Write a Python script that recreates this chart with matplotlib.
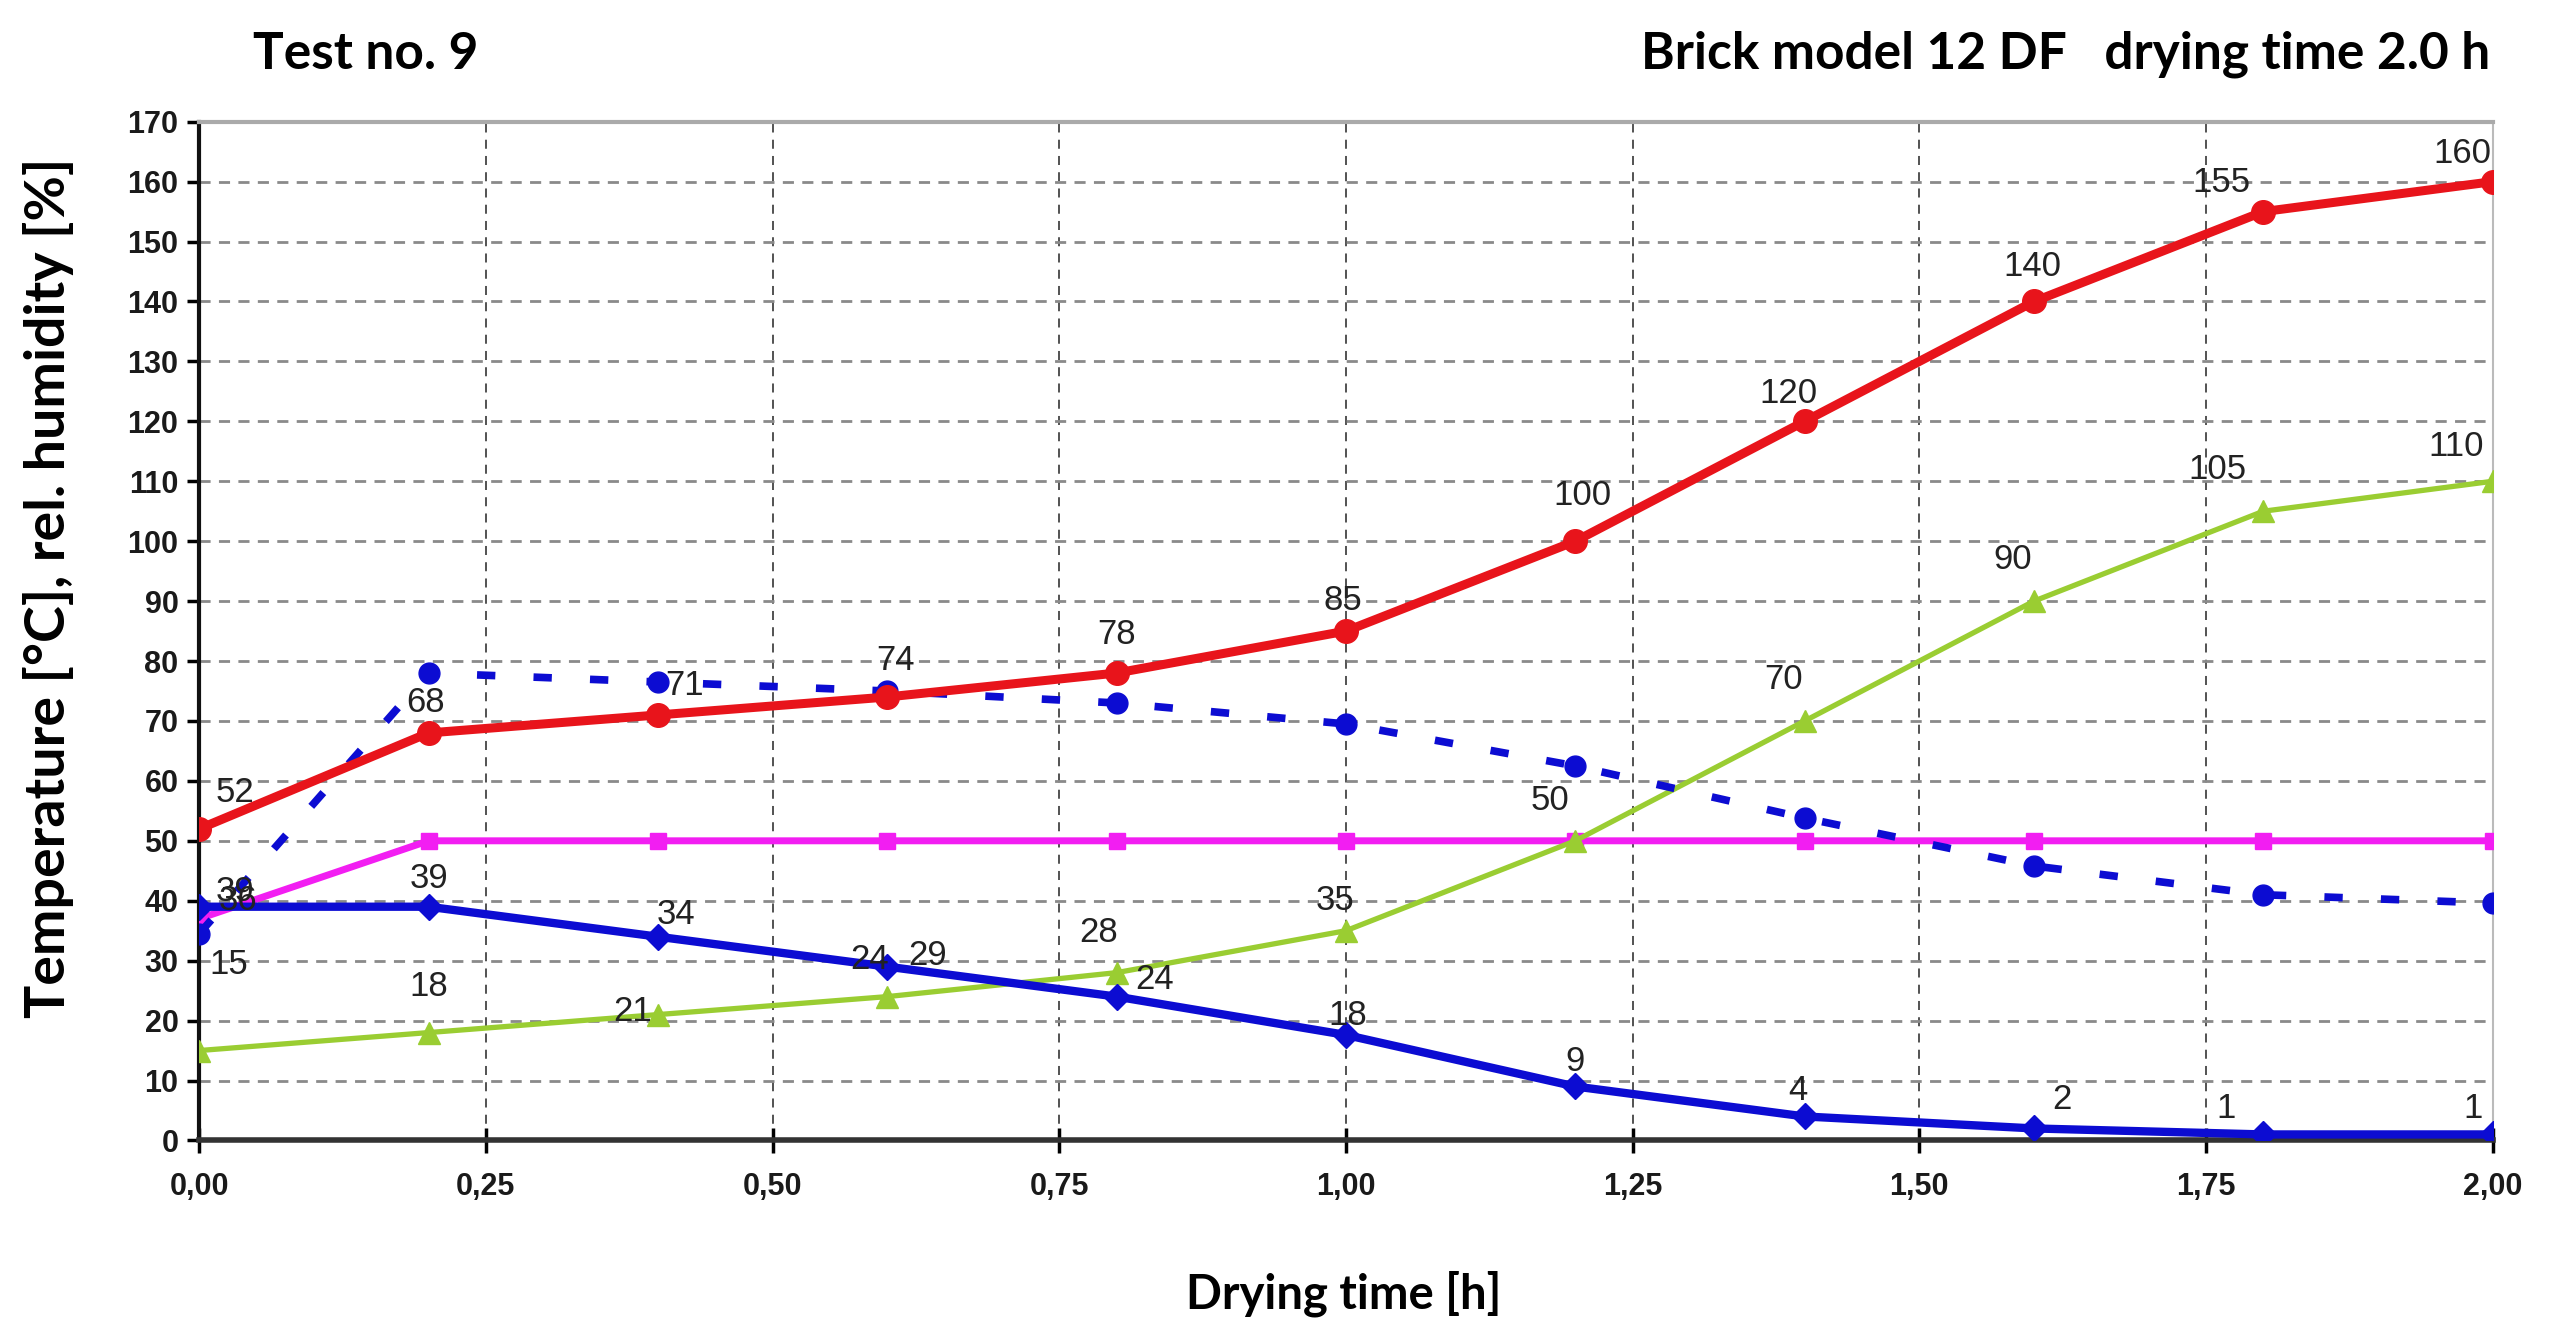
import matplotlib
matplotlib.use("Agg")
import matplotlib.pyplot as plt

# drying time [h]
time_h = [0.0, 0.2, 0.4, 0.6, 0.8, 1.0, 1.2, 1.4, 1.6, 1.8, 2.0]

# series values
red_temp = [52, 68, 71, 74, 78, 85, 100, 120, 140, 155, 160]
green_temp = [15, 18, 21, 24, 28, 35, 50, 70, 90, 105, 110]
blue_solid = [39, 39, 34, 29, 24, 17.6, 9, 4, 2, 1, 1]
blue_dashed = [34.5, 78, 76.5, 75, 73, 69.5, 62.5, 53.8, 45.8, 41, 39.6]
magenta = [37, 50, 50, 50, 50, 50, 50, 50, 50, 50, 50]

red_labels = ["52", "68", "71", "74", "78", "85", "100", "120", "140", "155", "160"]
green_labels = ["15", "18", "21", "24", "28", "35", "50", "70", "90", "105", "110"]
blue_labels = ["39", "39", "34", "29", "24", "18", "9", "4", "2", "1", "1"]

x_ticks = [0, 0.25, 0.5, 0.75, 1.0, 1.25, 1.5, 1.75, 2.0]
x_ticklabels = ["0,00", "0,25", "0,50", "0,75", "1,00", "1,25", "1,50", "1,75", "2,00"]
y_ticks = list(range(0, 171, 10))

# label offsets in points (dx, dy)
red_off = [(26, 26), (-2, 22), (19, 21), (6, 26), (0, 28), (-2, 22), (5, 33), (-12, 20), (-1, 25), (-30, 21), (-22, 20)]
green_off = [(21, 62), (0, 33), (-18, 2), (-13, 27), (-13, 29), (-8, 22), (-18, 29), (-15, 30), (-15, 30), (-33, 30), (-26, 25)]
blue_off = [(26, 11), (0, 20), (13, 16), (29, 8), (27, 12), (1, 14), (0, 18), (-5, 19), (20, 21), (-27, 19), (-14, 19)]

RED = "#e8141b"
BLUE = "#0c0cd2"
GREEN = "#9acd32"
PINK = "#f21ef2"

title_font = ["Lato", "DejaVu Sans"]
tick_font = ["Liberation Sans Narrow", "Liberation Sans", "DejaVu Sans"]

fig = plt.figure(figsize=(25.54, 13.23), dpi=100)
ax = fig.add_axes([0.078, 0.138, 0.898, 0.770])

ax.plot(time_h, magenta, color=PINK, lw=5, marker="s", ms=11, zorder=3)
ax.plot(time_h, green_temp, color=GREEN, lw=3.8, marker="^", ms=16, zorder=4)
ax.plot(time_h, blue_dashed, color=BLUE, lw=5.5, ls=(0, (2.4, 5.0)), marker="o", ms=15, zorder=5)
ax.plot(time_h, blue_solid, color=BLUE, lw=6, marker="D", ms=13, zorder=6)
ax.plot(time_h, red_temp, color=RED, lw=6.5, marker="o", ms=17, zorder=7)

lbl = dict(textcoords="offset points", ha="center", va="center",
           fontsize=25, family=tick_font, color="#222222", zorder=10)
for x, y, t, o in zip(time_h, red_temp, red_labels, red_off):
    ax.annotate(t, (x, y), xytext=o, **lbl)
for x, y, t, o in zip(time_h, green_temp, green_labels, green_off):
    ax.annotate(t, (x, y), xytext=o, **lbl)
for x, y, t, o in zip(time_h, blue_solid, blue_labels, blue_off):
    ax.annotate(t, (x, y), xytext=o, **lbl)
# overlapping label at the start of the pink line
ax.annotate("36", (time_h[0], magenta[0]), xytext=(28, 13), **lbl)

ax.set_xlim(0, 2.0)
ax.set_ylim(0, 170)
ax.set_xticks(x_ticks)
ax.set_xticklabels(x_ticklabels)
ax.set_yticks(y_ticks)
for t in ax.get_xticklabels() + ax.get_yticklabels():
    t.set_family(tick_font)
    t.set_fontweight("bold")
    t.set_fontsize(22)
    t.set_color("#1a1a1a")
ax.tick_params(axis="x", direction="inout", length=18, width=2.5, pad=14)
ax.tick_params(axis="y", direction="out", length=9, width=2.5, pad=6)

ax.yaxis.grid(True, ls=(0, (4, 3)), color="#8a8a8a", lw=2)
ax.xaxis.grid(True, ls=(0, (5, 4)), color="#444444", lw=1.3)
ax.set_axisbelow(True)

ax.spines["left"].set_linewidth(3)
ax.spines["bottom"].set_linewidth(4)
ax.spines["left"].set_color("#111111")
ax.spines["bottom"].set_color("#333333")
ax.spines["top"].set_color("#aaaaaa")
ax.spines["top"].set_linewidth(3)
ax.spines["right"].set_color("#bbbbbb")
ax.spines["right"].set_linewidth(1.5)

fig.text(0.099, 0.959, "Test no. 9", fontsize=37, fontweight="bold", family=title_font, va="center", ha="left")
fig.text(0.975, 0.959, "Brick model 12 DF   drying time 2.0 h", fontsize=37, fontweight="bold",
         family=title_font, va="center", ha="right")
fig.text(0.526, 0.022, "Drying time [h]", fontsize=34, fontweight="bold", family=title_font, va="center", ha="center")
fig.text(0.019, 0.556, "Temperature [°C], rel. humidity [%]", fontsize=40, fontweight="bold",
         family=title_font, va="center", ha="center", rotation=90)

fig.savefig("out.png", dpi=100)
